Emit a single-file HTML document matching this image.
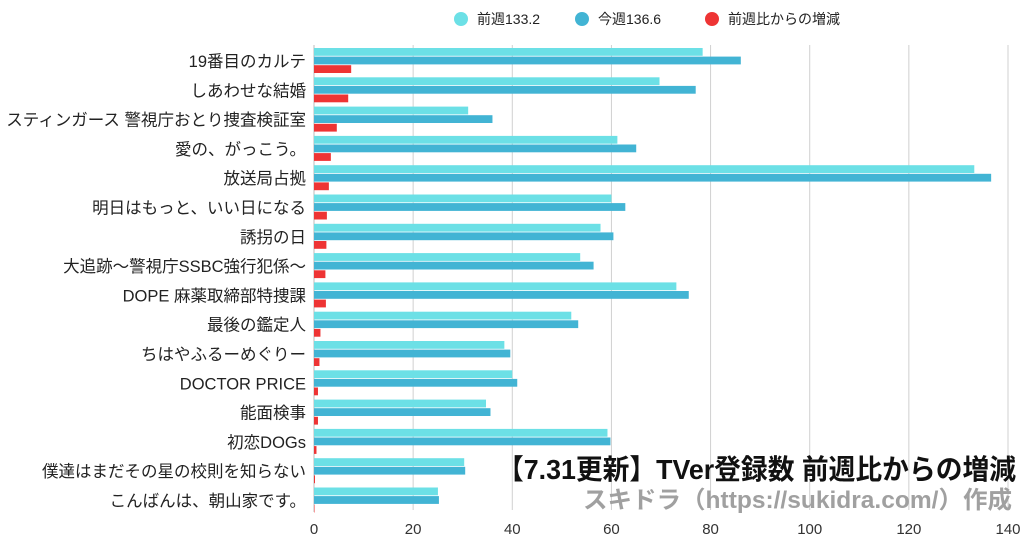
<!DOCTYPE html>
<html><head><meta charset="utf-8">
<style>
html,body{margin:0;padding:0;background:#fff;}
body{width:1024px;height:538px;overflow:hidden;font-family:"Liberation Sans","Noto Sans CJK JP",sans-serif;}
</style></head>
<body>
<svg id="chart" width="1024" height="538" xmlns="http://www.w3.org/2000/svg" font-family="Liberation Sans, Noto Sans CJK JP, sans-serif"></svg>
<script>
const categories=["19番目のカルテ","しあわせな結婚","スティンガース 警視庁おとり捜査検証室","愛の、がっこう。","放送局占拠","明日はもっと、いい日になる","誘拐の日","大追跡〜警視庁SSBC強行犯係〜","DOPE 麻薬取締部特捜課","最後の鑑定人","ちはやふるーめぐりー","DOCTOR PRICE","能面検事","初恋DOGs","僕達はまだその星の校則を知らない","こんばんは、朝山家です。"];
const prevWeek=[78.4,69.7,31.1,61.2,133.2,60,57.8,53.7,73.1,51.9,38.4,40,34.7,59.2,30.3,25];
const thisWeek=[86.1,77,36,65,136.6,62.8,60.4,56.4,75.6,53.3,39.6,41,35.6,59.8,30.5,25.2];
const increase=[7.5,6.9,4.6,3.4,3,2.6,2.5,2.3,2.4,1.3,1.1,0.8,0.8,0.5,0.2,0.1];
const ticks=[0,20,40,60,80,100,120,140];
const legendLabels=["前週133.2","今週136.6","前週比からの増減"];
const colors=["#6ce0e6","#42b4d4","#ee3434"];

const svg=document.getElementById('chart');
const NS="http://www.w3.org/2000/svg";
const x0=314,pxPer=(1008-314)/140,top0=48,rowH=29.3,barH=8.6;
const X=v=>x0+v*pxPer;
function mk(t,a,p){const e=document.createElementNS(NS,t);for(const k in a)e.setAttribute(k,a[k]);(p||svg).appendChild(e);return e;}

ticks.forEach((t,i)=>{
  if(t>0){const g=mk('line',{x1:X(t),x2:X(t),y1:45,y2:510,stroke:'#d0d0d0','stroke-width':1});
  
  }
  const tl=mk('text',{x:X(t),y:534,'text-anchor':'middle','font-size':15,fill:'#333'});
  tl.textContent=t;
  
  
});
const ax=mk('line',{x1:x0,x2:x0,y1:45,y2:512,stroke:'#bbb','stroke-width':1});



const series=[prevWeek,thisWeek,increase];
categories.forEach((c,i)=>{
  const y=top0+i*rowH;
  const lab=mk('text',{x:306,y:y+19,'text-anchor':'end','font-size':16.5,fill:'#222'});
  lab.textContent=c;
  
  
  series.forEach((s,j)=>{
    const r=mk('rect',{x:x0,y:y+j*barH,width:Math.max(0,X(s[i])-x0),height:barH-0.8,fill:colors[j]});
    
    
  });
});

const lx=[461,582,712];
legendLabels.forEach((l,j)=>{
  const c=mk('circle',{cx:lx[j],cy:19,r:7,fill:colors[j]});
  
  
  const t=mk('text',{x:lx[j]+16,y:24,'font-size':14,fill:'#222'});
  t.textContent=l;
  
  
});

const title=mk('text',{x:1016,y:479,'text-anchor':'end','font-size':28,'font-weight':'bold',fill:'#111',textLength:519,lengthAdjust:'spacingAndGlyphs'});
title.textContent="【7.31更新】TVer登録数 前週比からの増減";


const sub=mk('text',{x:1012,y:508,'text-anchor':'end','font-size':24,'font-weight':'bold',fill:'#a0a0a0',textLength:429,lengthAdjust:'spacingAndGlyphs'});
sub.textContent="スキドラ（https://sukidra.com/）作成";


</script>
</body></html>
